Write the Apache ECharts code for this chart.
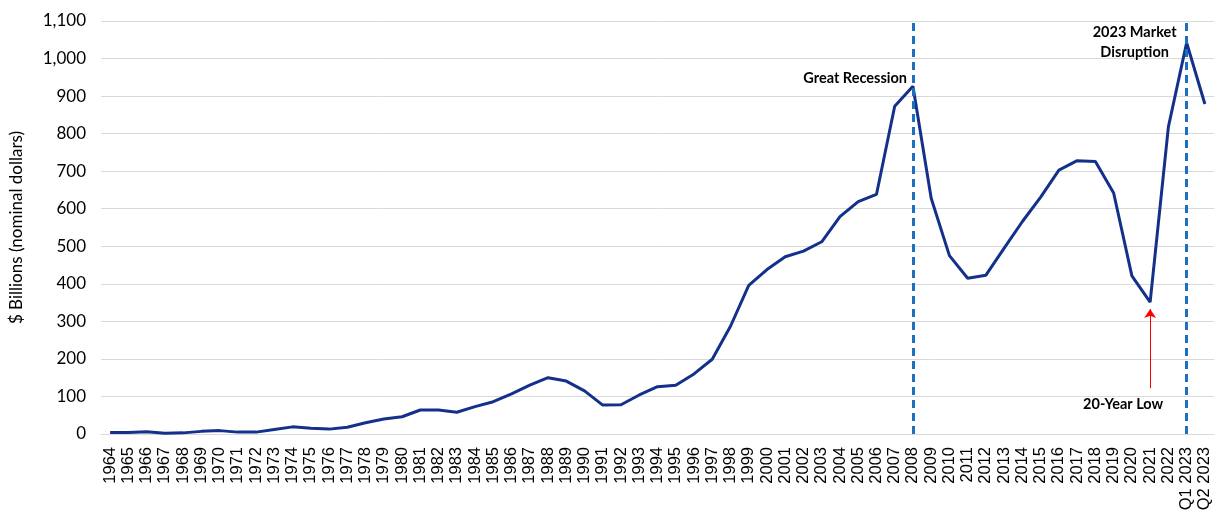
<!DOCTYPE html>
<html>
<head>
<meta charset="utf-8">
<script src="https://cdn.jsdelivr.net/npm/echarts@6/dist/echarts.min.js"></script>
<style>
  html, body { margin: 0; padding: 0; background: #fff; }
  #chart { width: 1221px; height: 516px; }
</style>
</head>
<body>
<div id="chart"></div>
<script>
// categories: yearly 1964-2022, then two quarters of 2023
const years = [];
for (let y = 1964; y <= 2022; y++) years.push(String(y));
const categories = years.concat(['Q1 2023', 'Q2 2023']);

// $ billions
const values = [
  4, 4, 6, 2, 3, 7, 9, 5, 5, 12,
  19, 15, 13, 18, 30, 40, 46, 64, 64, 58,
  73, 86, 107, 130, 150, 141, 115, 77, 78, 104,
  126, 130, 160, 199, 287, 396, 438, 472, 487, 512,
  579, 619, 638, 873, 926, 628, 475, 415, 423, 495,
  566, 631, 703, 728, 726, 642, 421, 351, 818, 1042,
  879
];

const yTicks = { min: 0, max: 1100, interval: 100 };
const eventLines = ['2008', 'Q1 2023'];

const fontFamily = 'Lato, "Open Sans", sans-serif';
const chart = echarts.init(document.getElementById('chart'));

chart.setOption({
  animation: false,
  textStyle: { fontFamily: fontFamily },
  grid: { left: 100, right: 7, top: 21, bottom: 82 },
  xAxis: {
    type: 'category',
    data: categories,
    boundaryGap: true,
    axisLine: { lineStyle: { color: '#d9d9d9', width: 1 } },
    axisTick: { show: false },
    axisLabel: { interval: 0, rotate: 90, color: '#000', fontSize: 16.5, margin: 13, fontFamily: '"Liberation Sans", Arial, sans-serif' }
  },
  yAxis: {
    type: 'value',
    min: yTicks.min,
    max: yTicks.max,
    interval: yTicks.interval,
    name: '$ Billions (nominal dollars)',
    nameLocation: 'middle',
    nameGap: 76,
    nameTextStyle: { color: '#000', fontSize: 17, fontFamily: fontFamily },
    axisLine: { show: false },
    axisTick: { show: false },
    splitLine: { lineStyle: { color: '#d9d9d9', width: 1 } },
    axisLabel: {
      color: '#000', fontSize: 17, margin: 15, fontFamily: fontFamily,
      formatter: v => v.toLocaleString('en-US')
    }
  },
  series: [{
    type: 'line',
    data: values,
    symbol: 'none',
    lineStyle: { color: '#13318a', width: 3 },
    z: 3,
    markLine: {
      silent: true,
      symbol: 'none',
      label: { show: false },
      lineStyle: { color: '#1f6fc0', type: [8, 5], width: 3 },
      data: eventLines.map(c => ({ xAxis: c }))
    },
    markPoint: {
      silent: true,
      symbol: 'circle',
      symbolSize: 0,
      label: { show: true, color: '#000', fontWeight: 'bold', fontSize: 14.5, fontFamily: fontFamily, lineHeight: 20 },
      data: [
        { coord: ['2008', 928], label: { formatter: 'Great Recession', position: 'left', offset: [-1, -7] } },
        { coord: ['Q1 2023', 1042], label: { formatter: '2023 Market\nDisruption', position: 'inside', align: 'center', offset: [-52, 0] } },
        { coord: ['2021', 80], label: { formatter: '20-Year Low', position: 'inside', align: 'center', offset: [-27, 0] } }
      ]
    }
  }, {
    type: 'line',
    data: [],
    markLine: {
      silent: true,
      symbol: ['none', 'arrow'],
      symbolSize: 9,
      label: { show: false },
      lineStyle: { color: '#ff0000', type: 'solid', width: 1 },
      data: [[{ coord: ['2021', 122] }, { coord: ['2021', 333] }]]
    }
  }]
});
</script>
</body>
</html>
